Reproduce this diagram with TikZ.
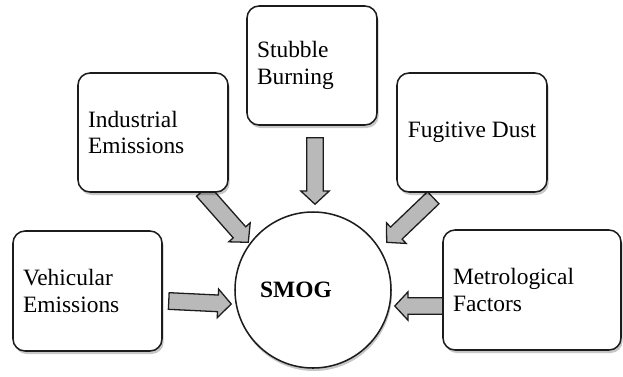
\documentclass[tikz,border=0pt]{standalone}
\usepackage{fontspec}
\setmainfont{Liberation Serif}
\usetikzlibrary{positioning, calc, shadows}
\definecolor{borde}{HTML}{1C1C1C}
\definecolor{grisflecha}{HTML}{B9B9B9}
\pgfdeclarelayer{fondo}
\pgfsetlayers{fondo,main}
\tikzset{
  caja/.style={rectangle, rounded corners=3.6mm, draw=borde, line width=1.3pt, fill=white,
               align=left, inner xsep=3mm, font=\fontsize{20}{22.5}\selectfont,
               drop shadow={shadow xshift=0.5mm, shadow yshift=-0.9mm, fill=black, opacity=0.22}},
  centro/.style={circle, draw=borde, line width=1.3pt, fill=white, minimum size=46.8mm,
                 font=\fontsize{20}{24}\selectfont\bfseries,
                 drop shadow={shadow xshift=0.3mm, shadow yshift=-0.9mm, fill=black, opacity=0.22}},
  flechagris/.style={draw=borde, line width=1.1pt, fill=grisflecha, line join=miter}
}
% flecha de bloque entre dos puntos
\newcommand{\flecha}[2]{%
  \coordinate (fA) at (#1); \coordinate (fB) at (#2);
  \coordinate (fH) at ($(fB)!4mm!(fA)$);
  \draw [flechagris] ($(fA)!2.5mm!90:(fB)$) -- ($(fH)!2.5mm!-90:(fA)$) -- ($(fH)!4.3mm!-90:(fA)$)
    -- (fB) -- ($(fH)!4.3mm!90:(fA)$) -- ($(fH)!2.5mm!90:(fA)$) -- ($(fA)!2.5mm!-90:(fB)$) -- cycle;}

\begin{document}
\begin{tikzpicture}[x=0.3mm, y=-0.3mm]
  \useasboundingbox (0,0) rectangle (623,376);
  % Centro
  \node (smog) [centro] at (313,290) {SMOG\hspace*{10.2mm}};
  % Causas
  \node (veh) [caja, minimum width=44.7mm, minimum height=36mm, text width=38.7mm] at (87.5,291) {Vehicular\\ Emissions};
  \node (ind) [caja, minimum width=45mm, minimum height=35.7mm, text width=39mm] at (153,132.5) {Industrial\\ Emissions};
  \node (stub) [caja, minimum width=39mm, minimum height=35.7mm, text width=33mm] at (312,65.5) {Stubble\\ Burning};
  \node (fug) [caja, minimum width=45mm, minimum height=35.7mm] at (472,132.5) {Fugitive Dust};
  \node (met) [caja, minimum width=53.4mm, minimum height=36mm, text width=47.4mm] at (532,290) {Metrological\\ Factors};
  % Flechas hacia el centro
  \begin{pgfonlayer}{fondo}
    \flecha{$(stub.south)+(3,12)$}{$(smog.north)+(2,-7)$}
    \flecha{$(ind.south east)+(-26,-2)$}{$(smog.north west)+(-9,8)$}
    \flecha{$(fug.south west)+(37,5)$}{$(smog.north east)+(18,8)$}
    \flecha{$(veh.east)+(6,10)$}{$(smog.west)+(-3,14)$}
    \flecha{$(met.west)+(2,16)$}{$(smog.east)+(3,16)$}
  \end{pgfonlayer}
\end{tikzpicture}
\end{document}
